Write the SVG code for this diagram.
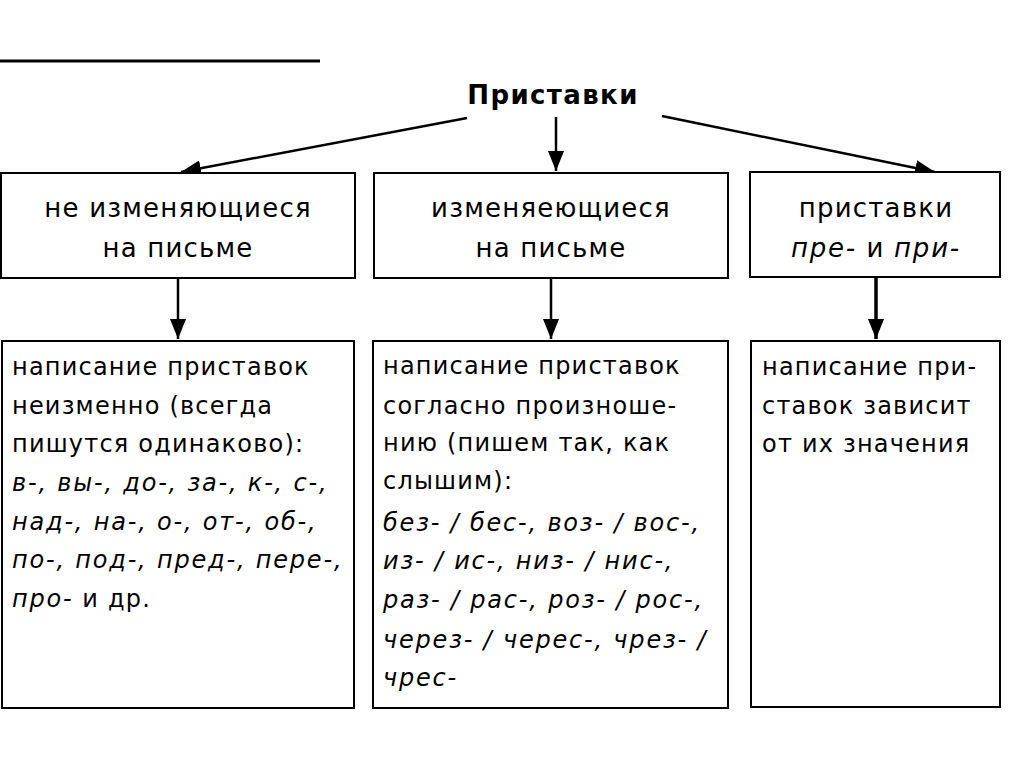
<svg xmlns="http://www.w3.org/2000/svg" width="1024" height="767" viewBox="0 0 1024 767">
<defs>
<marker id="ah2" viewBox="0 0 20 16" refX="20" refY="8" markerWidth="20" markerHeight="16" markerUnits="userSpaceOnUse" orient="auto">
<path d="M0,0 L20,8 L0,16 z" fill="#000"/>
</marker>
</defs>
<style>
text{font-family:"DejaVu Sans","Noto Sans",sans-serif;fill:#000;}
.box{fill:#fff;stroke:#000;stroke-width:2;}
.h{font-size:26px;text-anchor:middle;letter-spacing:1.2px;}
.b{font-size:24px;letter-spacing:1.2px;}
.i{font-style:italic;letter-spacing:1.8px;}
.title{font-size:26px;font-weight:bold;text-anchor:middle;letter-spacing:1.4px;}
.c{stroke:#000;stroke-width:2.5;fill:none;}
</style>
<rect width="1024" height="767" fill="#fff"/>
<line x1="0" y1="61" x2="320" y2="61" stroke="#000" stroke-width="3"/>
<g id="root"><text class="title" x="553" y="104">Приставки</text></g>
<g id="connectors">
<line class="c" x1="467" y1="118" x2="181" y2="172" marker-end="url(#ah2)"/>
<line class="c" x1="556" y1="117" x2="556" y2="171" marker-end="url(#ah2)"/>
<line class="c" x1="662" y1="116" x2="935" y2="172" marker-end="url(#ah2)"/>
<line class="c" x1="178" y1="279" x2="178" y2="339" marker-end="url(#ah2)"/>
<line class="c" x1="551" y1="279" x2="551" y2="339" marker-end="url(#ah2)"/>
<line class="c" x1="876" y1="278" x2="876" y2="339" style="stroke-width:3.5" marker-end="url(#ah2)"/>
</g>
<g id="n1"><rect class="box" x="1" y="173" width="354" height="105"/>
<text class="h" x="178" y="217">не изменяющиеся</text><text class="h" x="178" y="257">на письме</text></g>
<g id="n2"><rect class="box" x="374" y="173" width="354" height="105"/>
<text class="h" x="551" y="217">изменяеющиеся</text><text class="h" x="551" y="257">на письме</text></g>
<g id="n3"><rect class="box" x="750" y="172" width="250" height="105"/>
<text class="h" x="876" y="217">приставки</text><text class="h" x="876" y="257"><tspan class="i">пре-</tspan> и <tspan class="i">при-</tspan></text></g>
<g id="n4"><rect class="box" x="2" y="341" width="352" height="367"/>
<text class="b" x="12" y="375">написание приставок</text>
<text class="b" x="12" y="414">неизменно (всегда</text>
<text class="b" x="12" y="452">пишутся одинаково):</text>
<text class="b i" x="12" y="491">в-, вы-, до-, за-, к-, с-,</text>
<text class="b i" x="12" y="530">над-, на-, о-, от-, об-,</text>
<text class="b i" x="12" y="568">по-, под-, пред-, пере-,</text>
<text class="b" x="12" y="607"><tspan class="i">про-</tspan> и др.</text></g>
<g id="n5"><rect class="box" x="373" y="341" width="355" height="367"/>
<text class="b" x="383" y="374">написание приставок</text>
<text class="b" x="383" y="414">согласно произноше-</text>
<text class="b" x="383" y="451">нию (пишем так, как</text>
<text class="b" x="383" y="489">слышим):</text>
<text class="b i" x="383" y="531">без- / бес-, воз- / вос-,</text>
<text class="b i" x="383" y="569">из- / ис-, низ- / нис-,</text>
<text class="b i" x="383" y="608">раз- / рас-, роз- / рос-,</text>
<text class="b i" x="383" y="648">через- / черес-, чрез- /</text>
<text class="b i" x="383" y="686">чрес-</text></g>
<g id="n6"><rect class="box" x="751" y="341" width="249" height="366"/>
<text class="b" x="762" y="375">написание при-</text>
<text class="b" x="762" y="414">ставок зависит</text>
<text class="b" x="762" y="452">от их значения</text></g>
</svg>
